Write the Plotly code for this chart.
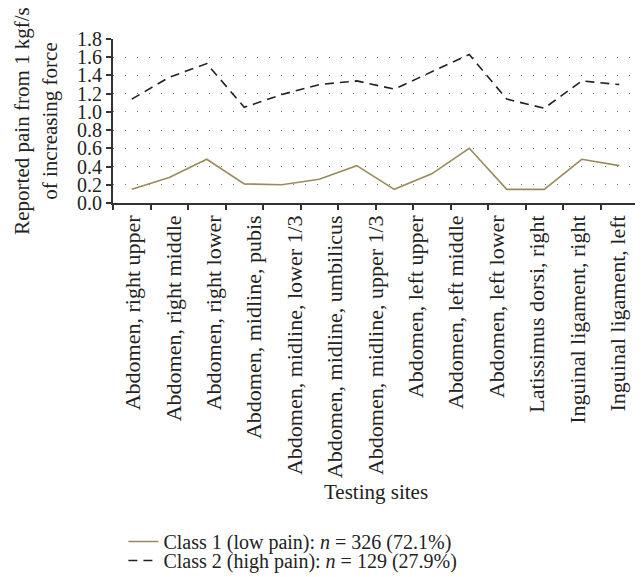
import plotly.graph_objects as go
import numpy as np

# --- data ---
site_labels = [
    "Abdomen, right upper", "Abdomen, right middle", "Abdomen, right lower",
    "Abdomen, midline, pubis", "Abdomen, midline, lower 1/3",
    "Abdomen, midline, umbilicus", "Abdomen, midline, upper 1/3",
    "Abdomen, left upper", "Abdomen, left middle", "Abdomen, left lower",
    "Latissimus dorsi, right", "Inguinal ligament, right", "Inguinal ligament, left",
]
class1_values = [0.15, 0.28, 0.48, 0.21, 0.20, 0.26, 0.41, 0.15, 0.32, 0.60, 0.15, 0.15, 0.48, 0.41]
class2_values = [1.14, 1.38, 1.53, 1.05, 1.19, 1.30, 1.34, 1.25, 1.44, 1.63, 1.14, 1.04, 1.34, 1.30]
y_ticks = [0.0, 0.2, 0.4, 0.6, 0.8, 1.0, 1.2, 1.4, 1.6, 1.8]
class1_name = "Class 1 (low pain): <i>n</i> = 326 (72.1%)"
class2_name = "Class 2 (high pain): <i>n</i> = 129 (27.9%)"

point_index = np.arange(len(class1_values))
n_points = len(class1_values)
n_labels = len(site_labels)

FONT = "Liberation Serif"
FS = 21
TXT = "#222222"

fig = go.Figure()
fig.add_trace(go.Scatter(
    x=point_index, y=class1_values, mode="lines", name=class1_name,
    line=dict(color="#9a8b5e", width=1.6), legend="legend",
))
fig.add_trace(go.Scatter(
    x=point_index, y=class2_values, mode="lines", name=class2_name,
    line=dict(color="#222222", width=1.6, dash="9px,6px"), legend="legend2",
))
# invisible trace carrying the category labels on an overlaid axis
fig.add_trace(go.Scatter(
    x=site_labels, y=[None] * n_labels, xaxis="x2", mode="lines",
    showlegend=False, hoverinfo="skip",
))

legend_common = dict(
    xanchor="left", yanchor="top", yref="container",
    font=dict(family=FONT, size=20, color=TXT),
    bgcolor="rgba(0,0,0,0)", tracegroupgap=0, itemwidth=30,
)

# page body adds an 8px margin; the figure is sized to fill the rest
fig.update_layout(
    width=635, height=569,
    margin=dict(l=105, r=5, t=31, b=374, autoexpand=False),
    plot_bgcolor="white", paper_bgcolor="white",
    font=dict(family=FONT, size=FS, color=TXT),
    showlegend=True,
    legend=dict(x=0.0198, y=0.0967, **legend_common),
    legend2=dict(x=0.0198, y=0.0633, **legend_common),
    xaxis=dict(
        range=[-0.5, n_points - 0.5],
        tickvals=np.arange(n_points + 1) - 0.5,
        showticklabels=False, automargin=False,
        ticks="outside", ticklen=5, tickcolor="#333333", tickwidth=1.5,
        showline=True, linecolor="#333333", linewidth=2,
        showgrid=False, zeroline=False,
    ),
    xaxis2=dict(
        overlaying="x", side="bottom", type="category", automargin=False,
        range=[-0.5, n_labels - 0.5],
        tickangle=-90, ticks="", showline=False, showgrid=False,
        tickfont=dict(family=FONT, size=22, color=TXT),
        ticklabelstandoff=7,
    ),
    yaxis=dict(
        range=[0, 1.8], tickvals=y_ticks, tickformat=".1f", automargin=False,
        ticks="outside", ticklen=5, tickcolor="#333333", tickwidth=1.5,
        showline=True, linecolor="#333333", linewidth=2,
        showgrid=True, gridcolor="#777777", gridwidth=1, griddash="1.3px,10.7px",
        zeroline=False,
        tickfont=dict(family=FONT, size=20, color=TXT),
        title=dict(text="Reported pain from 1 kgf/s<br>of increasing force",
                   font=dict(family=FONT, size=FS, color=TXT), standoff=14),
    ),
    annotations=[dict(
        text="Testing sites", xref="paper", yref="paper",
        x=0.5, y=-1.765, xanchor="center", yanchor="middle", showarrow=False,
        font=dict(family=FONT, size=FS, color=TXT),
    )],
)

fig.write_html("out.html")
